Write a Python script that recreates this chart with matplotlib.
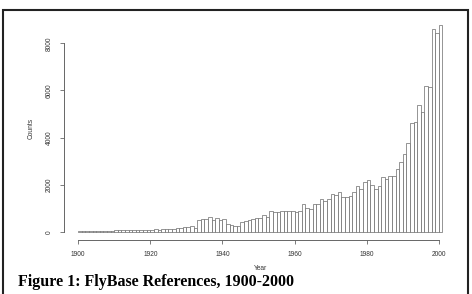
import matplotlib
matplotlib.use("Agg")
import matplotlib.pyplot as plt
from matplotlib.patches import Rectangle
import numpy as np

years = list(range(1900, 2001))
counts = [
    # 1900-1932
    30, 25, 30, 25, 30, 30, 30, 35, 40, 45,
    55, 60, 65, 80, 75, 70, 80, 70, 75, 80,
    90, 100, 95, 110, 105, 115, 130, 150, 180, 220,
    200, 250, 180,
    # 1933-1961
    480, 520, 550, 620, 480, 590, 480, 520, 350, 270,
    240, 240, 410, 465, 490, 535, 590, 590, 690, 635,
    875, 830, 845, 860, 890, 890, 860, 830, 860,
    # 1962-2000
    1160, 1015, 975, 1160, 1185, 1410, 1300, 1370, 1620, 1540,
    1680, 1470, 1470, 1510, 1680, 1930, 1830, 2100, 2190, 2000,
    1830, 1930, 2330, 2260, 2355, 2385, 2670, 2960, 3315, 3765,
    4610, 4640, 5390, 5105, 6190, 6160, 8600, 8460, 8770,
]
x_ticks = [1900, 1920, 1940, 1960, 1980, 2000]
y_ticks = [0, 2000, 4000, 6000, 8000]
x_label = "Year"
y_label = "Counts"
caption = "Figure 1: FlyBase References, 1900-2000"

W, H = 472, 294
fig = plt.figure(figsize=(W / 100, H / 100), dpi=100)
fig.patch.set_facecolor("white")

left, right, bottom, top = 63.6, 457, 240, 17
ax = fig.add_axes([left / W, (H - bottom) / H, (right - left) / W, (bottom - top) / H])
ax.bar(years, counts, width=1.0, align="edge", color="white",
       edgecolor="#6a6a6a", linewidth=0.5)

ax.set_xlim(1895.96, 2005.04)
ax.set_ylim(-350.8, 9120.8)
for s in ["top", "right"]:
    ax.spines[s].set_visible(False)
ax.spines["left"].set_bounds(0, 8000)
ax.spines["bottom"].set_bounds(1900, 2000)
for s in ["left", "bottom"]:
    ax.spines[s].set_color("#666666")
    ax.spines[s].set_linewidth(0.7)
ax.set_xticks(x_ticks)
ax.set_yticks(y_ticks)
ax.set_xticklabels([str(t) for t in x_ticks], fontsize=4.8, family="Liberation Sans", color="#333333")
ax.set_yticklabels([str(t) for t in y_ticks], fontsize=4.8, family="Liberation Sans",
                   color="#333333", rotation=90, va="center")
ax.tick_params(axis="both", length=3, width=0.6, color="#666666", pad=5)
ax.set_xlabel(x_label, fontsize=4.8, family="Liberation Sans", color="#333333", labelpad=5)
ax.set_ylabel(y_label, fontsize=4.8, family="Liberation Sans", color="#333333", labelpad=8)
ax.patch.set_alpha(0)

fig.text(18 / W, (H - 282) / H, caption, fontsize=11.5, family="Liberation Serif",
         weight="bold", ha="left", va="center", color="black")

border = Rectangle((2.5 / W, -0.1), (468 - 2.5) / W, (H - 10) / H + 0.1,
                   transform=fig.transFigure, fill=False, edgecolor="#222222",
                   linewidth=1.5, clip_on=False)
fig.patches.append(border)

fig.savefig("out.png", dpi=100)
